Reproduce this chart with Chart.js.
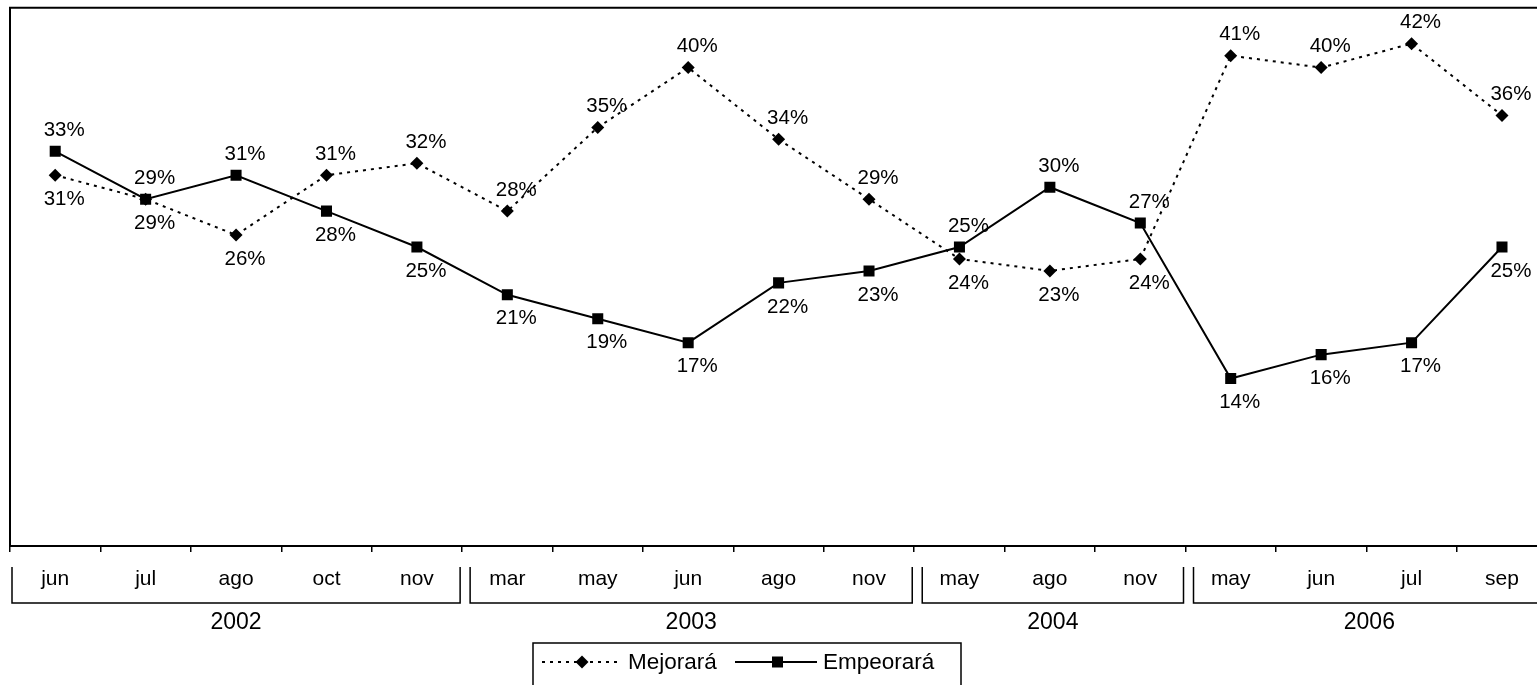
<!DOCTYPE html>
<html>
<head>
  <meta charset="utf-8">
  <title>Mejorará / Empeorará</title>
  <script src="https://cdn.jsdelivr.net/npm/chart.js"></script>
  <style>
    html, body { margin: 0; padding: 0; overflow: hidden; background: #fff; }
    #wrap { position: relative; width: 1555px; height: 685px; }
  </style>
</head>
<body>
<div id="wrap"><canvas id="chart"></canvas></div>

<script>
// months shown on the axis, and the year each group belongs to
var months = ['jun','jul','ago','oct','nov','mar','may','jun','ago','nov','may','ago','nov','may','jun','jul','sep'];
var years = ['2002','2003','2004','2006'];
var yearSpans = [5, 5, 3, 4];   // how many months per year group

var mejorara  = [31,29,26,31,32,28,35,40,34,29,24,23,24,41,40,42,36];
var empeorara = [33,29,31,28,25,21,19,17,22,23,25,30,27,14,16,17,25];

// where the % label sits: 'a' above the point, 'b' below
var mejPos = ['b','b','b','a','a','a','a','a','a','a','b','b','b','a','a','a','a'];
var empPos = ['a','a','a','b','b','b','b','b','b','b','a','a','a','b','b','b','b'];

var FONT = '"Liberation Sans", Arial, sans-serif';

var ctx = document.getElementById('chart').getContext('2d');

var decorations = {
  id: 'decorations',
  afterDatasetsDraw: function(chart) {
    var c = chart.ctx, area = chart.chartArea, xs = chart.scales.x;
    c.save();

    // top frame line
    c.strokeStyle = '#000';
    c.lineWidth = 2;
    c.beginPath();
    c.moveTo(area.left - 1, area.top);
    c.lineTo(chart.width, area.top);
    c.stroke();

    // value labels
    c.fillStyle = '#000';
    c.font = '20.5px ' + FONT;
    c.textAlign = 'center';
    c.textBaseline = 'middle';
    [[0, empeorara, empPos], [1, mejorara, mejPos]].forEach(function(s) {
      var meta = chart.getDatasetMeta(s[0]);
      meta.data.forEach(function(pt, i) {
        var dy = s[2][i] === 'a' ? -21 : 24;
        c.fillText(s[1][i] + '%', pt.x + 9, pt.y + dy);
      });
    });

    // year brackets under the months
    var half = (xs.getPixelForValue(1) - xs.getPixelForValue(0)) / 2;
    var start = 0;
    c.lineWidth = 1.5;
    c.font = '23px ' + FONT;
    years.forEach(function(yr, g) {
      var end = start + yearSpans[g] - 1;
      var x0 = xs.getPixelForValue(start) - half + (g === 0 ? 2 : 8);
      var x1 = xs.getPixelForValue(end) + half - 2;
      c.beginPath();
      c.moveTo(x0, 567);
      c.lineTo(x0, 603);
      c.lineTo(x1, 603);
      c.lineTo(x1, 567);
      c.stroke();
      c.fillText(yr, (x0 + x1) / 2, 623);
      start = end + 1;
    });

    // legend box
    c.lineWidth = 1.5;
    c.strokeRect(533, 643, 428, 60);
    var ly = 662;
    c.lineWidth = 2;
    c.setLineDash([3, 5]);
    c.beginPath(); c.moveTo(542, ly); c.lineTo(620, ly); c.stroke();
    c.setLineDash([]);
    c.beginPath();
    c.moveTo(582, ly - 6.5); c.lineTo(588.5, ly); c.lineTo(582, ly + 6.5); c.lineTo(575.5, ly);
    c.closePath(); c.fill();
    c.beginPath(); c.moveTo(735, ly); c.lineTo(817, ly); c.stroke();
    c.fillRect(772, ly - 5.5, 11, 11);
    c.textAlign = 'left';
    c.font = '22.5px ' + FONT;
    c.fillText('Mejorará', 628, ly + 1);
    c.fillText('Empeorará', 823, ly + 1);

    c.restore();
  }
};

var chart = new Chart(ctx, {
  type: 'line',
  data: {
    labels: months,
    datasets: [
      {
        label: 'Empeorará',
        data: empeorara,
        borderColor: '#000',
        backgroundColor: '#000',
        borderWidth: 2,
        pointStyle: 'rect',
        pointRadius: 7.8,
        pointBorderWidth: 0,
        tension: 0
      },
      {
        label: 'Mejorará',
        data: mejorara,
        borderColor: '#000',
        backgroundColor: '#000',
        borderWidth: 2,
        borderDash: [3, 5],
        pointStyle: 'rectRot',
        pointRadius: 6.5,
        pointBorderWidth: 0,
        tension: 0
      }
    ]
  },
  options: {
    responsive: true,
    maintainAspectRatio: false,
    animation: false,
    layout: { padding: { left: 0, right: 2, top: 6, bottom: 0 } },
    plugins: {
      legend: { display: false },
      tooltip: { enabled: false }
    },
    scales: {
      x: {
        offset: true,
        afterFit: function(s) { s.height = 139; },
        grid: {
          offset: true,
          drawOnChartArea: false,
          drawTicks: true,
          tickLength: 6,
          color: '#000',
          lineWidth: 1.5
        },
        border: { display: true, color: '#000', width: 2 },
        ticks: {
          color: '#000',
          font: { family: FONT, size: 21 },
          padding: 15,
          autoSkip: false,
          maxRotation: 0
        }
      },
      y: {
        min: 0,
        max: 45,
        afterFit: function(s) { s.width = 10; },
        grid: { display: false },
        border: { display: true, color: '#000', width: 2 },
        ticks: { display: false }
      }
    }
  },
  plugins: [decorations]
});
</script>
</body>
</html>
